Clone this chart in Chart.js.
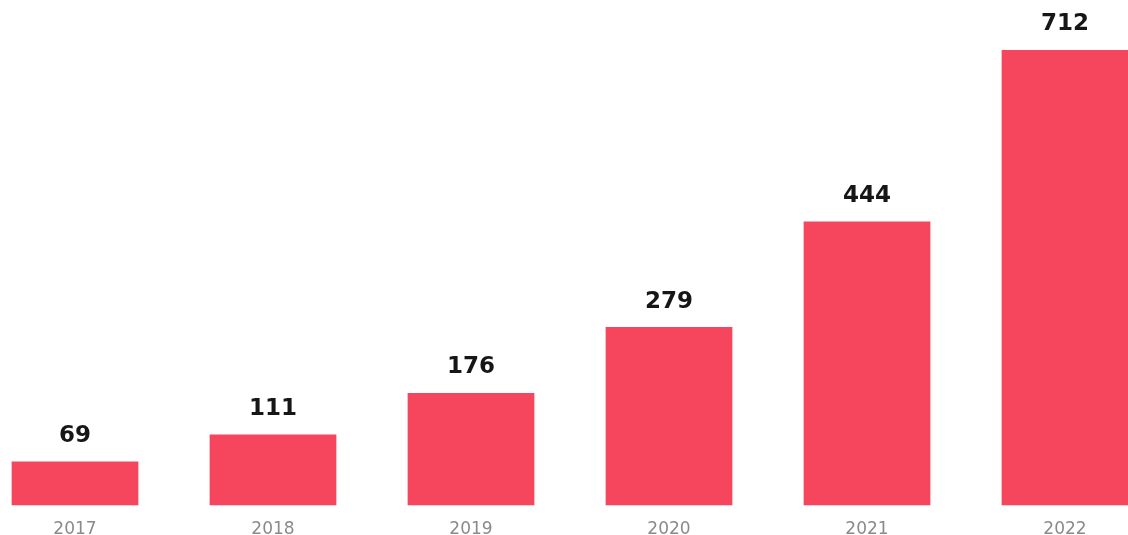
<!DOCTYPE html>
<html>
<head>
<meta charset="utf-8">
<script src="https://cdn.jsdelivr.net/npm/chart.js@4"></script>
<style>
  html, body { margin: 0; padding: 0; background: #fff; overflow: hidden; }
  #wrap { position: relative; width: 1188px; height: 546px; margin-left: -24px; }
</style>
</head>
<body>
<div id="wrap"><canvas id="myChart"></canvas></div>
<script>
var years = ['2017', '2018', '2019', '2020', '2021', '2022'];
var counts = [69, 111, 176, 279, 444, 712];

// writes each bar's value just above it
var valueLabels = {
    id: 'valueLabels',
    afterDatasetsDraw: function (chart) {
        var ctx = chart.ctx;
        var meta = chart.getDatasetMeta(0);
        ctx.save();
        ctx.font = 'bold 23px "DejaVu Sans"';
        ctx.fillStyle = '#161616';
        ctx.textAlign = 'center';
        ctx.textBaseline = 'bottom';
        meta.data.forEach(function (bar, i) {
            ctx.fillText(String(counts[i]), bar.x, bar.y - 14);
        });
        ctx.restore();
    }
};

var ctx = document.getElementById('myChart').getContext('2d');
var chart = new Chart(ctx, {
    type: 'bar',
    data: {
        labels: years,
        datasets: [{
            data: counts,
            backgroundColor: '#f6465e',
            borderWidth: 0,
            categoryPercentage: 1,
            barPercentage: 0.64
        }]
    },
    options: {
        responsive: true,
        maintainAspectRatio: false,
        animation: false,
        layout: { padding: { top: 50, left: 0, right: 0, bottom: 0 } },
        plugins: {
            legend: { display: false },
            tooltip: { enabled: false }
        },
        scales: {
            x: {
                grid: { display: false },
                border: { display: false },
                ticks: {
                    color: '#8a8a8a',
                    padding: 6,
                    font: { family: 'DejaVu Sans', size: 17 }
                }
            },
            y: {
                display: false,
                min: 0,
                max: 712
            }
        }
    },
    plugins: [valueLabels]
});
</script>
</body>
</html>
